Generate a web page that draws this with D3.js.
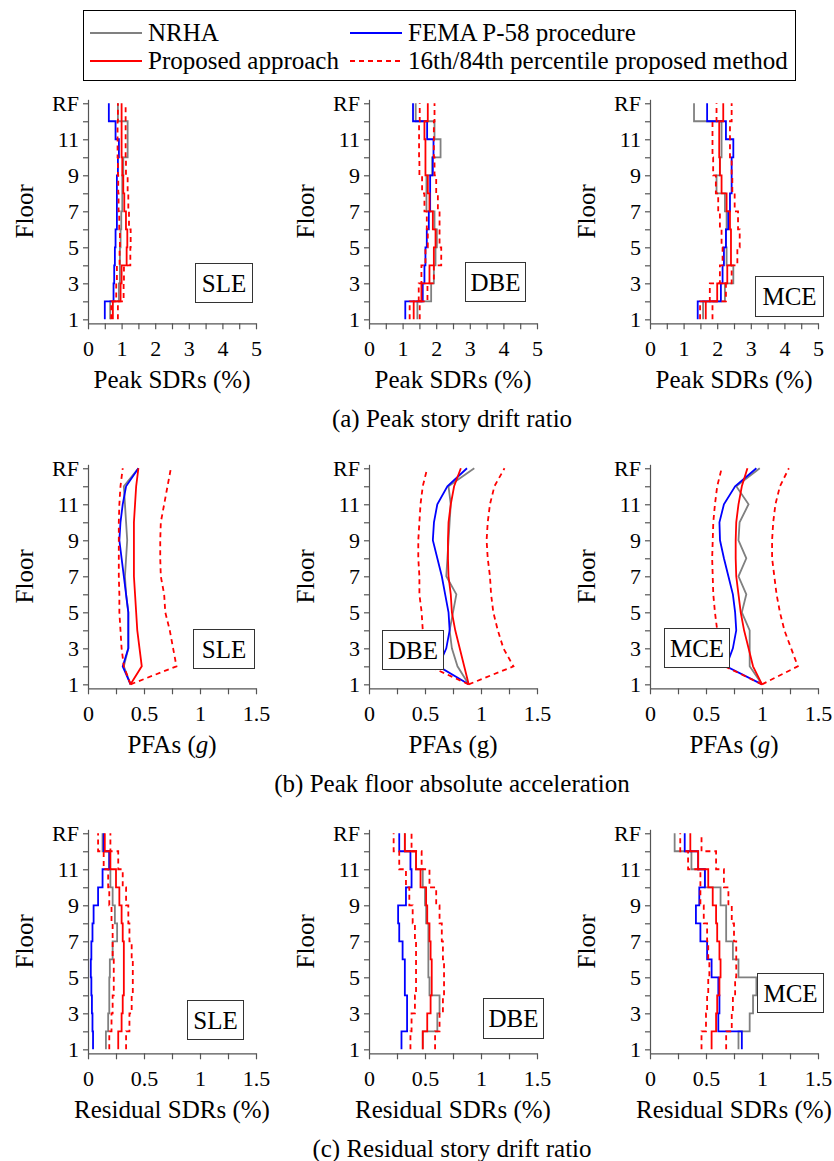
<!DOCTYPE html>
<html>
<head>
<meta charset="utf-8">
<script src="https://cdn.jsdelivr.net/npm/d3@7/dist/d3.min.js"></script>
<style>
  body { margin: 0; background: #fff; }
  svg { font-family: "Liberation Serif", "Times New Roman", serif; }
  .axis path, .axis line { stroke: #555; stroke-width: 1.2; }
  .axis text { font-family: "Liberation Serif", serif; font-size: 22px; fill: #000; }
</style>
</head>
<body>
<div id="chart"></div>
<script>
// floors: 1..12 and RF (=13); story values are for stories 1..12
var floorLabels = ['1', '2', '3', '4', '5', '6', '7', '8', '9', '10', '11', '12', 'RF'];
var hazards = ['SLE', 'DBE', 'MCE'];

// (a) peak story drift ratio (%), stories 1..12
var sdrNRHA = [
  [0.66, 0.92, 0.95, 0.95, 0.97, 0.99, 1.02, 1.02, 1.05, 1.18, 1.18, 0.89],
  [1.44, 1.85, 1.93, 1.98, 2.02, 1.95, 1.71, 1.71, 1.88, 2.13, 1.95, 1.39],
  [1.58, 2.23, 2.48, 2.28, 2.26, 2.28, 2.23, 1.98, 2.08, 2.13, 2.13, 1.31]
];
var sdrFEMA = [
  [0.50, 0.76, 0.78, 0.80, 0.82, 0.86, 0.86, 0.86, 0.89, 0.92, 0.82, 0.62],
  [1.08, 1.60, 1.65, 1.68, 1.72, 1.78, 1.82, 1.82, 1.90, 1.92, 1.73, 1.31],
  [1.42, 2.11, 2.16, 2.20, 2.26, 2.33, 2.38, 2.43, 2.43, 2.48, 2.26, 1.70]
];
var sdrProp = [
  [0.74, 0.97, 1.00, 1.15, 1.17, 1.13, 1.08, 1.05, 1.02, 1.00, 1.00, 1.00],
  [1.33, 1.56, 1.80, 1.93, 1.98, 1.90, 1.80, 1.75, 1.68, 1.68, 1.65, 1.75],
  [1.66, 2.00, 2.30, 2.41, 2.41, 2.38, 2.28, 2.13, 2.08, 2.06, 2.06, 2.18]
];
var sdrP16 = [
  [0.69, 0.84, 0.86, 0.94, 0.95, 0.93, 0.91, 0.90, 0.89, 0.88, 0.88, 0.89],
  [1.21, 1.48, 1.56, 1.68, 1.75, 1.72, 1.65, 1.58, 1.50, 1.49, 1.49, 1.51],
  [1.49, 1.78, 2.08, 2.16, 2.13, 2.08, 2.03, 1.96, 1.88, 1.86, 1.86, 1.98]
];
var sdrP84 = [
  [0.89, 1.06, 1.07, 1.26, 1.27, 1.22, 1.20, 1.18, 1.13, 1.12, 1.12, 1.12],
  [1.51, 1.74, 1.93, 2.15, 2.10, 2.10, 2.05, 2.00, 1.95, 1.93, 1.93, 1.95],
  [1.86, 2.26, 2.43, 2.60, 2.67, 2.62, 2.52, 2.45, 2.43, 2.38, 2.38, 2.43]
];

// (b) peak floor absolute acceleration (g), floors 1..RF
var pfaNRHA = [
  [0.38, 0.32, 0.36, 0.36, 0.36, 0.34, 0.33, 0.34, 0.35, 0.34, 0.33, 0.32, 0.45],
  [0.89, 0.79, 0.74, 0.72, 0.75, 0.78, 0.69, 0.70, 0.71, 0.72, 0.73, 0.71, 0.94],
  [1.00, 0.89, 0.89, 0.89, 0.82, 0.86, 0.79, 0.86, 0.79, 0.80, 0.88, 0.77, 0.98]
];
var pfaFEMA = [
  [0.38, 0.31, 0.36, 0.36, 0.36, 0.34, 0.32, 0.30, 0.28, 0.29, 0.31, 0.34, 0.45],
  [0.89, 0.62, 0.69, 0.72, 0.71, 0.68, 0.65, 0.61, 0.57, 0.58, 0.61, 0.70, 0.875],
  [1.00, 0.68, 0.74, 0.77, 0.76, 0.74, 0.70, 0.66, 0.625, 0.62, 0.66, 0.76, 0.95]
];
var pfaProp = [
  [0.38, 0.48, 0.46, 0.44, 0.43, 0.42, 0.41, 0.41, 0.41, 0.41, 0.42, 0.43, 0.45],
  [0.89, 0.85, 0.81, 0.77, 0.74, 0.73, 0.71, 0.705, 0.705, 0.71, 0.73, 0.76, 0.82],
  [1.00, 0.92, 0.88, 0.84, 0.81, 0.79, 0.77, 0.765, 0.765, 0.77, 0.79, 0.82, 0.87]
];
var pfaP16 = [
  [0.38, 0.32, 0.30, 0.29, 0.28, 0.28, 0.275, 0.275, 0.275, 0.275, 0.28, 0.29, 0.31],
  [0.89, 0.54, 0.50, 0.48, 0.47, 0.45, 0.45, 0.44, 0.44, 0.45, 0.46, 0.48, 0.52],
  [1.00, 0.67, 0.61, 0.60, 0.58, 0.565, 0.56, 0.555, 0.56, 0.565, 0.58, 0.60, 0.64]
];
var pfaP84 = [
  [0.38, 0.79, 0.76, 0.73, 0.69, 0.68, 0.65, 0.645, 0.645, 0.65, 0.68, 0.71, 0.74],
  [0.89, 1.29, 1.20, 1.15, 1.11, 1.09, 1.08, 1.06, 1.05, 1.06, 1.08, 1.12, 1.21],
  [1.00, 1.32, 1.26, 1.20, 1.16, 1.13, 1.11, 1.09, 1.09, 1.10, 1.12, 1.16, 1.24]
];

// (c) residual story drift ratio (%), stories 1..12
var rsdNRHA = [
  [0.16, 0.18, 0.19, 0.19, 0.195, 0.22, 0.26, 0.24, 0.22, 0.20, 0.19, 0.13],
  [0.48, 0.61, 0.63, 0.54, 0.53, 0.53, 0.53, 0.51, 0.50, 0.48, 0.42, 0.32],
  [0.79, 0.89, 0.92, 0.95, 0.79, 0.74, 0.68, 0.68, 0.63, 0.49, 0.37, 0.22]
];
var rsdFEMA = [
  [0.045, 0.04, 0.035, 0.03, 0.025, 0.03, 0.04, 0.05, 0.09, 0.13, 0.19, 0.14],
  [0.29, 0.34, 0.34, 0.32, 0.32, 0.30, 0.27, 0.26, 0.33, 0.38, 0.37, 0.27],
  [0.82, 0.61, 0.62, 0.61, 0.55, 0.51, 0.45, 0.41, 0.44, 0.49, 0.43, 0.31]
];
var rsdProp = [
  [0.27, 0.30, 0.31, 0.32, 0.32, 0.32, 0.31, 0.30, 0.28, 0.25, 0.20, 0.15],
  [0.48, 0.52, 0.55, 0.56, 0.56, 0.55, 0.54, 0.52, 0.51, 0.46, 0.42, 0.32],
  [0.55, 0.59, 0.60, 0.62, 0.63, 0.62, 0.60, 0.59, 0.56, 0.52, 0.43, 0.36]
];
var rsdP16 = [
  [0.19, 0.21, 0.22, 0.23, 0.23, 0.22, 0.22, 0.21, 0.19, 0.18, 0.14, 0.09],
  [0.37, 0.38, 0.41, 0.42, 0.42, 0.42, 0.41, 0.39, 0.36, 0.33, 0.27, 0.22],
  [0.46, 0.50, 0.51, 0.52, 0.53, 0.52, 0.51, 0.48, 0.45, 0.45, 0.34, 0.27]
];
var rsdP84 = [
  [0.34, 0.37, 0.39, 0.40, 0.40, 0.39, 0.37, 0.36, 0.34, 0.31, 0.27, 0.20],
  [0.59, 0.63, 0.66, 0.67, 0.67, 0.66, 0.65, 0.63, 0.60, 0.54, 0.47, 0.38],
  [0.68, 0.73, 0.74, 0.76, 0.77, 0.77, 0.75, 0.73, 0.70, 0.66, 0.59, 0.46]
];

var width = 834,
  height = 1161;

var svg = d3.select('#chart')
  .append('svg')
  .attr('width', width)
  .attr('height', height);

var panelX = [88, 369, 650];
var panelW = 168;
var rowOffset = [0, 365, 730];

var colors = {
  nrha: '#808080',
  fema: '#0000ff',
  prop: '#ff0000'
};

// Legend

var legend = svg.append('g').attr('class', 'legend');

legend.append('rect')
  .attr('x', 83.5)
  .attr('y', 10.5)
  .attr('width', 712)
  .attr('height', 70)
  .attr('fill', '#fff')
  .attr('stroke', '#000')
  .attr('stroke-width', 1);

var legendItems = [
  { label: 'NRHA', color: colors.nrha, dash: null, x: 90, y: 33 },
  { label: 'FEMA P-58 procedure', color: colors.fema, dash: null, x: 350, y: 33 },
  { label: 'Proposed approach', color: colors.prop, dash: null, x: 90, y: 61 },
  { label: '16th/84th percentile proposed method', color: colors.prop, dash: '5,4', x: 350, y: 61 }
];

legendItems.forEach(function(d) {
  legend.append('line')
    .attr('x1', d.x)
    .attr('x2', d.x + 52)
    .attr('y1', d.y)
    .attr('y2', d.y)
    .attr('stroke', d.color)
    .attr('stroke-width', 2)
    .attr('stroke-dasharray', d.dash);
  legend.append('text')
    .attr('x', d.x + 58)
    .attr('y', d.y + 8)
    .attr('font-size', 25)
    .text(d.label);
});

// Build step points for story values (story i spans floor i to i+1).
function stepPoints(vals) {
  var pts = [];
  vals.forEach(function(v, i) {
    pts.push([v, i + 1]);
    pts.push([v, i + 2]);
  });
  return pts;
}

function floorPoints(vals) {
  return vals.map(function(v, i) {
    return [v, i + 1];
  });
}

var rows = [
  {
    xmax: 5, step: 0.5, labelEvery: 1, steps: true,
    xTitle: [['Peak SDRs (%)'], ['Peak SDRs (%)'], ['Peak SDRs (%)']],
    caption: '(a) Peak story drift ratio',
    series: [sdrNRHA, sdrFEMA, sdrProp, sdrP16, sdrP84],
    boxes: [[195, 263, 57, 39], [465, 262, 60, 39], [755, 276, 68, 40]]
  },
  {
    xmax: 1.5, step: 0.25, labelEvery: 0.5, steps: false,
    xTitle: ['italic', 'plain', 'italic'],
    caption: '(b) Peak floor absolute acceleration',
    series: [pfaNRHA, pfaFEMA, pfaProp, pfaP16, pfaP84],
    boxes: [[193, 629, 61, 39], [382, 630, 61, 39], [664, 628, 65, 39]]
  },
  {
    xmax: 1.5, step: 0.25, labelEvery: 0.5, steps: true,
    xTitle: [['Residual SDRs (%)'], ['Residual SDRs (%)'], ['Residual SDRs (%)']],
    caption: '(c) Residual story drift ratio',
    series: [rsdNRHA, rsdFEMA, rsdProp, rsdP16, rsdP84],
    boxes: [[187, 1000, 56, 39], [483, 998, 60, 40], [757, 973, 66, 39]]
  }
];

rows.forEach(function(row, r) {
  var off = rowOffset[r];

  var yScale = d3.scaleLinear()
    .domain([0.78, 13.22])
    .range([323.3 + off, 99.3 + off]);

  hazards.forEach(function(hz, c) {
    var x0 = panelX[c];
    var xScale = d3.scaleLinear()
      .domain([0, row.xmax])
      .range([x0, x0 + panelW]);

    var g = svg.append('g');

    var ticks = d3.range(0, row.xmax + 1e-9, row.step);

    g.append('g')
      .attr('class', 'axis')
      .attr('transform', 'translate(0,' + yScale.range()[0] + ')')
      .call(d3.axisBottom(xScale)
        .tickValues(ticks)
        .tickSize(6)
        .tickSizeOuter(0)
        .tickPadding(11)
        .tickFormat(function(d) {
          var k = d / row.labelEvery;
          return Math.abs(k - Math.round(k)) < 1e-6 ? d3.format('~g')(d) : '';
        }));

    g.append('g')
      .attr('class', 'axis')
      .attr('transform', 'translate(' + x0 + ',0)')
      .call(d3.axisLeft(yScale)
        .tickValues(d3.range(1, 14))
        .tickSize(5)
        .tickSizeOuter(0)
        .tickPadding(4)
        .tickFormat(function(d) {
          if (d === 13) return 'RF';
          return d % 2 === 1 ? floorLabels[d - 1] : '';
        }));

    // y title
    g.append('text')
      .attr('transform', 'translate(' + (x0 - 55) + ',' + yScale(7) + ') rotate(-90)')
      .attr('text-anchor', 'middle')
      .attr('font-size', 25)
      .text('Floor');

    // x title
    var xt = g.append('text')
      .attr('x', x0 + panelW / 2)
      .attr('y', 388 + off)
      .attr('text-anchor', 'middle')
      .attr('font-size', 25);
    if (r === 1) {
      xt.append('tspan').text('PFAs (');
      xt.append('tspan')
        .attr('font-style', row.xTitle[c] === 'italic' ? 'italic' : 'normal')
        .text('g');
      xt.append('tspan').text(')');
    } else {
      xt.text(row.xTitle[c][0]);
    }

    var line = d3.line()
      .x(function(d) { return xScale(d[0]); })
      .y(function(d) { return yScale(d[1]); });

    var toPts = row.steps ? stepPoints : floorPoints;

    var styles = [
      { color: colors.nrha, dash: null },
      { color: colors.fema, dash: null },
      { color: colors.prop, dash: null },
      { color: colors.prop, dash: '5,4' },
      { color: colors.prop, dash: '5,4' }
    ];

    row.series.forEach(function(s, i) {
      g.append('path')
        .datum(toPts(s[c]))
        .attr('d', line)
        .attr('fill', 'none')
        .attr('stroke', styles[i].color)
        .attr('stroke-width', 1.8)
        .attr('stroke-dasharray', styles[i].dash);
    });

    // hazard level box
    var b = row.boxes[c];
    g.append('rect')
      .attr('x', b[0] + 0.5)
      .attr('y', b[1] + 0.5)
      .attr('width', b[2])
      .attr('height', b[3])
      .attr('fill', '#fff')
      .attr('stroke', '#333')
      .attr('stroke-width', 1);
    g.append('text')
      .attr('x', b[0] + b[2] / 2 + 0.5)
      .attr('y', b[1] + b[3] / 2 + 9)
      .attr('text-anchor', 'middle')
      .attr('font-size', 25)
      .text(hz);
  });

  svg.append('text')
    .attr('x', 452)
    .attr('y', 427 + off)
    .attr('text-anchor', 'middle')
    .attr('font-size', 25)
    .text(row.caption);
});
</script>
</body>
</html>
